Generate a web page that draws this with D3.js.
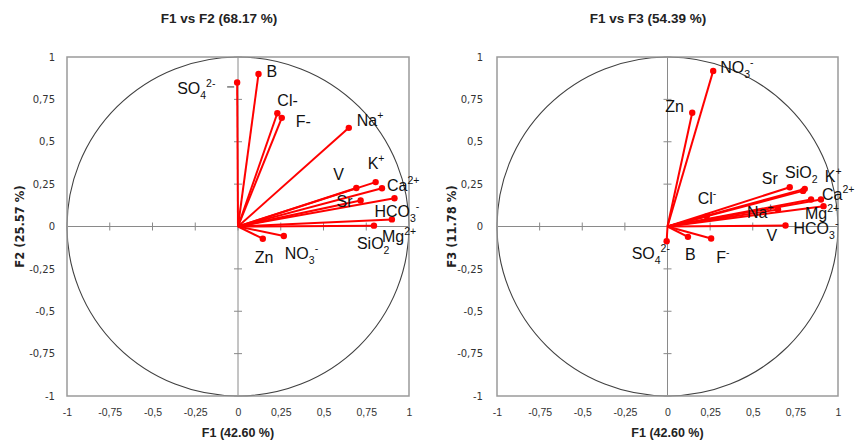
<!DOCTYPE html>
<html><head><meta charset="utf-8">
<script src="https://cdn.jsdelivr.net/npm/d3@7"></script>
<style>body{margin:0;background:#fff}svg{display:block}</style></head>
<body><svg id="c" width="855" height="442"></svg>
<script>
// ---- data ----
const variables = ["SO4","B","Cl","F","Na","K","Ca","V","Sr","HCO3","Mg","SiO2","Zn","NO3"];
const f1 = [-0.005,0.12,0.23,0.256,0.648,0.805,0.842,0.692,0.717,0.915,0.90,0.795,0.145,0.268];
const f2 = [0.85,0.90,0.668,0.641,0.582,0.262,0.226,0.227,0.153,0.167,0.042,0.005,-0.072,-0.056];
const f3 = [-0.087,-0.061,0.06,-0.071,0.10,0.222,0.159,0.006,0.232,0.12,0.159,0.21,0.671,0.918];
const tickValues = [-1,-0.75,-0.5,-0.25,0,0.25,0.5,0.75,1];
const tickLabels = ["-1","-0,75","-0,5","-0,25","0","0,25","0,5","0,75","1"];
const panelTitles = ["F1 vs F2 (68.17 %)","F1 vs F3 (54.39 %)"];
const xTitles = ["F1 (42.60 %)","F1 (42.60 %)"];
const yTitles = ["F2 (25.57 %)","F3 (11.78 %)"];

// label text parts: [text, kind] kind: n normal, b subscript, p superscript
const labelsLeft = {
  SO4:[["SO","n"],["4","b"],["2-","p"]], B:[["B","n"]], Cl:[["Cl-","n"]], F:[["F-","n"]],
  Na:[["Na","n"],["+","p"]], K:[["K","n"],["+","p"]], Ca:[["Ca","n"],["2+","p"]], V:[["V","n"]],
  Sr:[["Sr","n"]], HCO3:[["HCO","n"],["3","b"],["-","p"]], Mg:[["Mg","n"],["2+","p"]],
  SiO2:[["SiO","n"],["2","b"]], Zn:[["Zn","n"]], NO3:[["NO","n"],["3","b"],["-","p"]]
};
const labelsRight = Object.assign({}, labelsLeft, {Cl:[["Cl","n"],["-","p"]], F:[["F","n"],["-","p"]]});

// ---- layout (pixel offsets of labels from their points) ----
const offLeft = {SO4:[-60,6],B:[8,-3],Cl:[0,-13],F:[14,3],Na:[8,-8],K:[-8,-19],Ca:[5,-3],V:[-23,-14],
  Sr:[-24,0],HCO3:[-20,13],Mg:[-10,17],SiO2:[-17,17],Zn:[-8,18],NO3:[1,17]};
const offRight = {SO4:[-35,12],B:[-3,17],Cl:[-9,-18],F:[5,18],Na:[-31,2],K:[20,-13],Ca:[11,-6],V:[-19,10],
  Sr:[-28,-9],HCO3:[-30,22],Mg:[-16,13],SiO2:[-18,-19],Zn:[-27,-7],NO3:[7,-4]};

const panels = [
  {x0:67, x1:409, ys:f2, labels:labelsLeft, off:offLeft, ytickRight:55, ytitleX:20, titleX:219, leader:true},
  {x0:497, x1:838, ys:f3, labels:labelsRight, off:offRight, ytickRight:483, ytitleX:452, titleX:648, leader:false}
];
const yTop = 57, yBot = 396;
const svg = d3.select("#c");
svg.append("rect").attr("width",855).attr("height",442).attr("fill","#fff");

const labelFont = "'Liberation Sans', Arial, sans-serif";

panels.forEach((p, pi) => {
  const x = d3.scaleLinear().domain([-1,1]).range([p.x0, p.x1]);
  const y = d3.scaleLinear().domain([-1,1]).range([yBot, yTop]);
  const g = svg.append("g");

  // title
  g.append("text").attr("x", p.titleX).attr("y", 23).attr("text-anchor","middle")
    .attr("font-family", labelFont).attr("font-weight","bold").attr("font-size",13.5)
    .attr("fill","#222").text(panelTitles[pi]);

  // unit circle
  g.append("ellipse").attr("cx", x(0)).attr("cy", y(0))
    .attr("rx", x(1)-x(0)).attr("ry", y(0)-y(1))
    .attr("fill","none").attr("stroke","#404040").attr("stroke-width",1.1);

  // zero axes
  g.append("line").attr("x1",x(-1)).attr("x2",x(1)).attr("y1",y(0)).attr("y2",y(0))
    .attr("stroke","#8a8a8a").attr("stroke-width",1);
  g.append("line").attr("x1",x(0)).attr("x2",x(0)).attr("y1",y(-1)).attr("y2",y(1))
    .attr("stroke","#8a8a8a").attr("stroke-width",1);
  g.selectAll(".xt").data(tickValues).enter().append("line")
    .attr("x1",d=>x(d)).attr("x2",d=>x(d)).attr("y1",y(0)-4).attr("y2",y(0)+4)
    .attr("stroke","#8a8a8a");
  g.selectAll(".yt").data(tickValues).enter().append("line")
    .attr("y1",d=>y(d)).attr("y2",d=>y(d)).attr("x1",x(0)-4).attr("x2",x(0)+4)
    .attr("stroke","#8a8a8a");

  // frame
  g.append("rect").attr("x",p.x0).attr("y",yTop).attr("width",p.x1-p.x0).attr("height",yBot-yTop)
    .attr("fill","none").attr("stroke","#9a9a9a").attr("stroke-width",1.5);

  // tick labels via axes
  const fmt = d => tickLabels[tickValues.indexOf(d)];
  const ax = g.append("g").attr("transform",`translate(0,${yBot+10})`)
    .call(d3.axisBottom(x).tickValues(tickValues).tickFormat(fmt).tickSize(0));
  ax.select(".domain").remove();
  ax.selectAll("text").attr("font-family",labelFont).attr("font-size",10.5).attr("fill","#333");
  const ay = g.append("g").attr("transform",`translate(${p.ytickRight+0},0)`)
    .call(d3.axisLeft(y).tickValues(tickValues).tickFormat(fmt).tickSize(0).tickPadding(0));
  ay.select(".domain").remove();
  ay.selectAll("text").attr("font-family","'DejaVu Sans', Verdana, sans-serif").attr("font-size",10).attr("fill","#333");

  // axis titles
  g.append("text").attr("x", x(0)).attr("y", 437).attr("text-anchor","middle")
    .attr("font-family", labelFont).attr("font-weight","bold").attr("font-size",12.5)
    .attr("fill","#222").text(xTitles[pi]);
  g.append("text").attr("transform",`translate(${p.ytitleX},${y(0)}) rotate(-90)`)
    .attr("text-anchor","middle").attr("dominant-baseline","central")
    .attr("font-family","'DejaVu Sans', Verdana, sans-serif").attr("font-weight","bold").attr("font-size",11.5)
    .attr("fill","#222").text(yTitles[pi]);

  // vectors
  const pts = variables.map((v,i) => ({name:v, fx:f1[i], fy:p.ys[i]}));
  g.selectAll(".vec").data(pts).enter().append("line")
    .attr("x1",x(0)).attr("y1",y(0)).attr("x2",d=>x(d.fx)).attr("y2",d=>y(d.fy))
    .attr("stroke","#ff0000").attr("stroke-width",2);
  g.selectAll(".dot").data(pts).enter().append("circle")
    .attr("cx",d=>x(d.fx)).attr("cy",d=>y(d.fy)).attr("r",3.2).attr("fill","#ff0000");

  if (p.leader) {
    const s = pts[0];
    g.append("line").attr("x1",x(s.fx)-10).attr("x2",x(s.fx)-3)
      .attr("y1",y(s.fy)+4.5).attr("y2",y(s.fy)+4.5).attr("stroke","#555").attr("stroke-width",1.2);
  }

  // labels
  pts.forEach(d => {
    const o = p.off[d.name];
    const t = g.append("text").attr("x", x(d.fx)+o[0]).attr("y", y(d.fy)+o[1]+6)
      .attr("font-family", labelFont).attr("font-size",16).attr("fill","#111");
    let shift = 0;
    p.labels[d.name].forEach(part => {
      const target = part[1]==="b" ? 5 : part[1]==="p" ? -7 : 0;
      const sp = t.append("tspan").attr("dy", target - shift).text(part[0]);
      if (part[1] !== "n") sp.attr("font-size", 10.5);
      shift = target;
    });
  });
});
</script></body></html>
